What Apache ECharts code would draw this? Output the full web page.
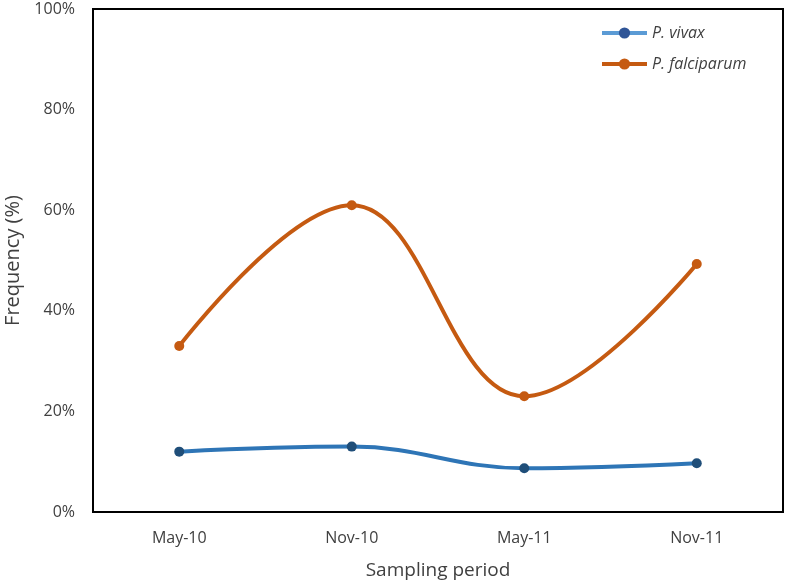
<!DOCTYPE html>
<html><head><meta charset="utf-8">
<script src="https://cdn.jsdelivr.net/npm/echarts@6/dist/echarts.min.js"></script>
<style>html,body{margin:0;padding:0;background:#fff}#c{width:787px;height:582px}</style>
</head><body><div id="c"></div>
<script>
const categories = ['May-10', 'Nov-10', 'May-11', 'Nov-11'];
const vivax = [12, 13, 8.7, 9.7];
const falciparum = [33, 61, 23, 49.3];
const yTicks = [0, 20, 40, 60, 80, 100];

const chart = echarts.init(document.getElementById('c'));
const font = 'Open Sans';
chart.setOption({
  animation: false,
  backgroundColor: '#fff',
  grid: { left: 93, right: 4, top: 9, bottom: 70, outerBoundsMode: 'none', containLabel: false,
    show: true, borderColor: '#000', borderWidth: 2, backgroundColor: 'transparent' },
  legend: {
    left: 595, top: 20, orient: 'vertical', itemWidth: 45, itemHeight: 14, itemGap: 15,
    textStyle: { fontFamily: font, fontStyle: 'italic', fontSize: 16, lineHeight: 16, color: '#404040' },
    data: [
      { name: 'P. vivax', lineStyle: { color: '#5B9BD5', width: 4 }, itemStyle: { color: '#2F5597' } },
      { name: 'P. falciparum', lineStyle: { color: '#C55A11', width: 4 }, itemStyle: { color: '#C55A11' } }
    ]
  },
  xAxis: {
    type: 'category', data: categories, boundaryGap: true,
    name: 'Sampling period', nameLocation: 'middle', nameGap: 49,
    nameTextStyle: { fontFamily: font, fontSize: 19, color: '#404040' },
    axisLine: { show: true, lineStyle: { color: '#000', width: 2 } },
    axisTick: { show: false },
    axisLabel: { fontFamily: font, fontSize: 16, color: '#404040', margin: 18 }
  },
  yAxis: {
    type: 'value', min: 0, max: 100, interval: 20,
    name: 'Frequency (%)', nameLocation: 'middle', nameGap: 63,
    nameTextStyle: { fontFamily: font, fontSize: 20, color: '#404040' },
    axisLine: { show: true, lineStyle: { color: '#000', width: 2 } },
    axisTick: { show: false },
    splitLine: { show: false },
    axisLabel: { fontFamily: font, fontSize: 16, color: '#404040', margin: 18,
      formatter: v => yTicks.includes(v) ? v + '%' : '' }
  },
  series: [
    {
      name: 'P. vivax', type: 'line', data: vivax, smooth: 0.4,
      symbol: 'circle', symbolSize: 10,
      lineStyle: { color: '#2E75B6', width: 4 },
      itemStyle: { color: '#1F4E79' }
    },
    {
      name: 'P. falciparum', type: 'line', data: falciparum, smooth: 0.4,
      symbol: 'circle', symbolSize: 10,
      lineStyle: { color: '#C55A11', width: 4 },
      itemStyle: { color: '#C55A11' }
    }
  ]
});
</script></body></html>
